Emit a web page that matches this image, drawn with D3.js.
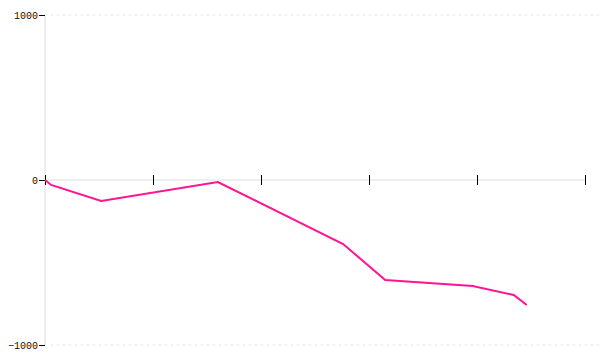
<!DOCTYPE html>
<html>
<head>
<meta charset="UTF-8">
<style>
  body { margin: 0; background: #fff; }
  .tick text { font-family: "Liberation Mono", monospace; font-size: 10px; fill: #111; }
</style>
</head>
<body>
<script src="https://d3js.org/d3.v7.min.js"></script>
<script>
// data
const xs = [0, 0.056, 0.52, 1.60, 2.76, 3.15, 3.96, 4.34, 4.46];
const ys = [0, -30, -127, -12, -388, -606, -642, -697, -758];
const xTicks = [0, 1, 2, 3, 4, 5];
const yTicks = [-1000, 0, 1000];

const width = 600, height = 360;
const margin = {top: 15, right: 15, bottom: 15, left: 45};

const svg = d3.select("body").append("svg")
  .attr("width", width)
  .attr("height", height);

const x = d3.scaleLinear().domain([0, 5]).range([margin.left, width - margin.right]);
const y = d3.scaleLinear().domain([-1000, 1000]).range([height - margin.bottom, margin.top]);

// dotted grid at the extremes
svg.append("g").selectAll("line")
  .data([-1000, 1000])
  .join("line")
  .attr("x1", margin.left + 6).attr("x2", width)
  .attr("y1", d => y(d)).attr("y2", d => y(d))
  .attr("stroke", "#e4e4e4")
  .attr("stroke-dasharray", "2,4");

// y axis
const yAxis = svg.append("g")
  .attr("transform", `translate(${margin.left},0)`)
  .call(d3.axisLeft(y).tickValues(yTicks).tickSize(6).tickPadding(1).tickFormat(d3.format("d")));
yAxis.select(".domain").attr("stroke", "#ddd").attr("d", `M0,${y(1000)}V${y(-1000)}`);

// x axis at zero
const xAxis = svg.append("g")
  .attr("transform", `translate(0,${y(0)})`)
  .call(d3.axisBottom(x).tickValues(xTicks).tickSize(0).tickFormat(""));
xAxis.select(".domain").attr("stroke", "#ddd").attr("d", `M${x(0)},0H${x(5)}`);
xAxis.selectAll(".tick line").attr("y1", -5).attr("y2", 5).attr("stroke", "#000");

const line = d3.line()
  .x((d, i) => x(xs[i]))
  .y(d => y(d));

svg.append("path")
  .datum(ys)
  .attr("fill", "none")
  .attr("stroke", "#ff1493")
  .attr("stroke-width", 2)
  .attr("d", line);
</script>
</body>
</html>
